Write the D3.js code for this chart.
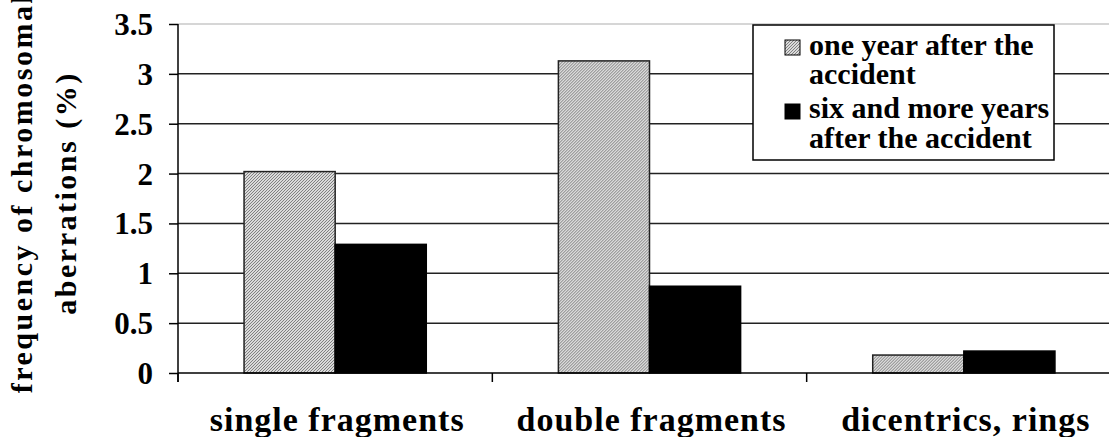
<!DOCTYPE html>
<html><head><meta charset="utf-8">
<script src="https://cdn.jsdelivr.net/npm/d3@7"></script>
</head>
<body style="margin:0;padding:0;background:#fff;overflow:hidden">
<svg id="fig" width="1109" height="437" style="display:block"></svg>
<script>
const categories = ["single fragments", "double fragments", "dicentrics, rings"];
const seriesNames = ["one year after the accident", "six and more years after the accident"];
const oneYear = [2.02, 3.13, 0.18];
const sixYears = [1.29, 0.87, 0.22];
const yTicks = [0, 0.5, 1, 1.5, 2, 2.5, 3, 3.5];
const yTickLabels = ["0", "0.5", "1", "1.5", "2", "2.5", "3", "3.5"];
const legendLines = [["one year after the", "accident"], ["six and more years", "after the accident"]];
const yTitleLines = ["frequency of chromosomal", "aberrations (%)"];

function txt(sel, size, ls) {
  return sel.attr("font-family", "Liberation Serif")
    .style("font-family", '"Liberation Serif"', "important")
    .style("font-weight", "bold", "important")
    .style("font-size", size + "px", "important")
    .style("letter-spacing", (ls || 0) + "px", "important")
    .style("fill", "#000");
}

const svg = d3.select("#fig");
const defs = svg.append("defs");
const pat = defs.append("pattern").attr("id", "hatch").attr("patternUnits", "userSpaceOnUse")
  .attr("width", 3).attr("height", 3);
pat.append("rect").attr("width", 3).attr("height", 3).attr("fill", "#dadada");
pat.append("path").attr("d", "M-1,1 l2,-2 M0,3 l3,-3 M2,4 l2,-2").attr("stroke", "#808080").attr("stroke-width", 1);

const pLeft = 178, pRight = 1121, pTop = 24, pBottom = 373;
const y = d3.scaleLinear().domain([0, 3.5]).range([pBottom, pTop]);
const x0 = d3.scaleBand().domain(categories).range([pLeft, pRight]).padding(0);
const x1 = d3.scaleBand().domain([0, 1]).range([0, x0.bandwidth()]).paddingInner(0).paddingOuter(0.725);

// gridlines
svg.append("g").selectAll("line").data(yTicks.filter(d => d > 0)).join("line")
  .attr("x1", pLeft).attr("x2", 1109)
  .attr("y1", d => y(d)).attr("y2", d => y(d))
  .attr("stroke", d => d === 3.5 ? "#c8c8c8" : "#222").attr("stroke-width", 1.5);

// bars
const data = categories.map((c, i) => ({c, vals: [oneYear[i], sixYears[i]]}));
const g = svg.append("g").selectAll("g").data(data).join("g")
  .attr("transform", d => `translate(${x0(d.c)},0)`);
g.selectAll("rect").data(d => d.vals.map((v, k) => ({v, k}))).join("rect")
  .attr("x", d => x1(d.k)).attr("width", x1.bandwidth())
  .attr("y", d => y(d.v)).attr("height", d => y(0) - y(d.v))
  .attr("fill", d => d.k === 0 ? "url(#hatch)" : "#000")
  .attr("stroke", d => d.k === 0 ? "#222" : "#000").attr("stroke-width", 1.5);

// y axis
const yAxis = d3.axisLeft(y).tickValues(yTicks).tickSize(9).tickFormat((d, i) => yTickLabels[i]).tickPadding(16);
const ya = svg.append("g").attr("transform", `translate(${pLeft},0)`).call(yAxis);
ya.attr("font-family", "Liberation Serif");
ya.select(".domain").remove();
ya.selectAll(".tick line").attr("stroke", "#000").attr("stroke-width", 1.5);
txt(ya.selectAll(".tick text"), 31).attr("dy", "0.34em");
svg.append("line").attr("x1", pLeft).attr("x2", pLeft).attr("y1", pTop).attr("y2", pBottom + 9)
  .attr("stroke", "#000").attr("stroke-width", 1.5);

// x axis
svg.append("line").attr("x1", pLeft).attr("x2", 1109).attr("y1", pBottom).attr("y2", pBottom)
  .attr("stroke", "#000").attr("stroke-width", 1.5);
svg.append("g").selectAll("line").data(categories).join("line")
  .attr("x1", d => x0(d)).attr("x2", d => x0(d))
  .attr("y1", pBottom).attr("y2", pBottom + 9).attr("stroke", "#000").attr("stroke-width", 1.5);
txt(svg.append("g").selectAll("text").data(categories).join("text")
  .attr("x", d => x0(d) + x0.bandwidth() / 2 + 2).attr("y", 431)
  .attr("text-anchor", "middle").text(d => d), 34, 1);

// y title
const yt = svg.append("text").attr("transform", "translate(0,193) rotate(-90)")
  .attr("text-anchor", "middle");
txt(yt, 30, 2.5);
yt.append("tspan").attr("x", 0).attr("y", 32).text(yTitleLines[0]);
yt.append("tspan").attr("x", 0).attr("y", 76).text(yTitleLines[1]);

// legend
const lg = svg.append("g");
lg.append("rect").attr("x", 753).attr("y", 25).attr("width", 301).attr("height", 135)
  .attr("fill", "#fff").attr("stroke", "#000").attr("stroke-width", 1.5);
const swY = [40, 104];
const lineY = [[55, 84], [118, 148]];
seriesNames.forEach((s, i) => {
  lg.append("rect").attr("x", 785).attr("y", swY[i]).attr("width", 15).attr("height", 15)
    .attr("fill", i === 0 ? "url(#hatch)" : "#000").attr("stroke", "#000").attr("stroke-width", 1);
  legendLines[i].forEach((t, j) => {
    txt(lg.append("text").attr("x", 809).attr("y", lineY[i][j]).text(t), 30);
  });
});
</script>
</body></html>
